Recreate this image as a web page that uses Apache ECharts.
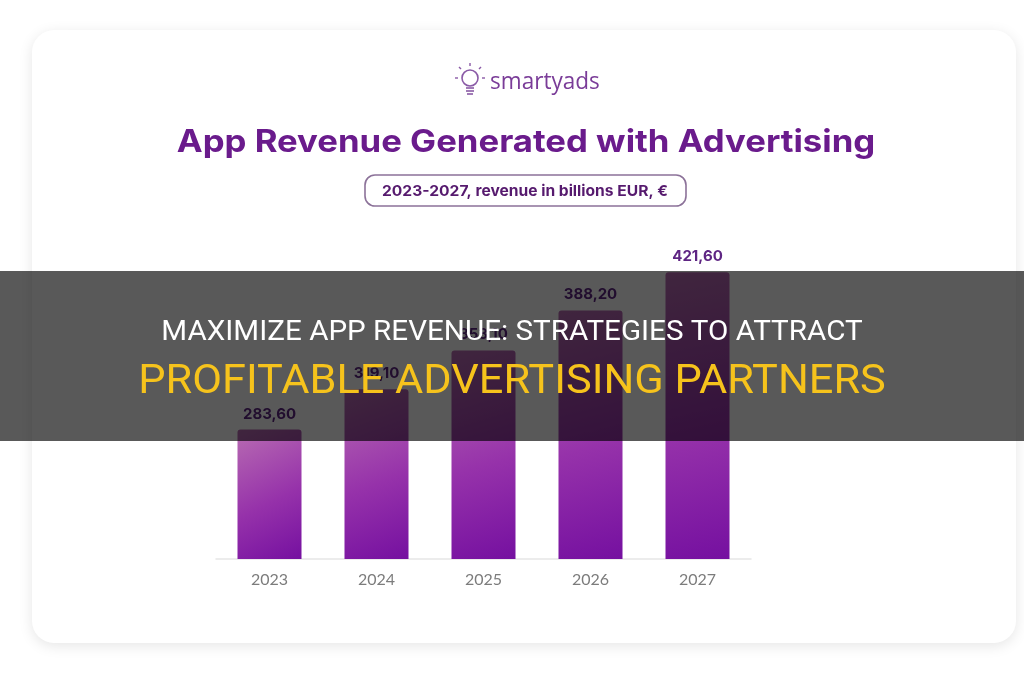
<!DOCTYPE html>
<html>
<head>
<meta charset="utf-8">
<script src="https://cdn.jsdelivr.net/npm/echarts@6/dist/echarts.min.js"></script>
<style>
html,body{margin:0;padding:0;background:#ffffff;}
#chart{width:1024px;height:680px;}
</style>
</head>
<body>
<div id="chart"></div>
<script>
var years = ['2023', '2024', '2025', '2026', '2027'];
var revenue = [283.60, 319.10, 353.10, 388.20, 421.60];
var chartTitle = 'App Revenue Generated with Advertising';
var chartSubtitle = '2023-2027, revenue in billions EUR, \u20ac';
var brandName = 'smartyads';
var overlayLine1 = 'MAXIMIZE APP REVENUE: STRATEGIES TO ATTRACT';
var overlayLine2 = 'PROFITABLE ADVERTISING PARTNERS';

var chart = echarts.init(document.getElementById('chart'), null, {renderer: 'canvas'});

var barGradient = new echarts.graphic.LinearGradient(0, 0, 1, 1, [
  {offset: 0, color: '#b86cb2'},
  {offset: 0.55, color: '#9632aa'},
  {offset: 1, color: '#7510a0'}
]);

var option = {
  backgroundColor: '#ffffff',
  animation: false,
  grid: {left: 216, width: 535, top: 240, height: 319},
  xAxis: {
    type: 'category',
    data: years,
    axisLine: {lineStyle: {color: '#e6e6e6', width: 1.5}},
    axisTick: {show: false},
    axisLabel: {color: '#7c7c7c', fontFamily: 'Lato', fontSize: 16, margin: 13}
  },
  yAxis: {
    type: 'value',
    min: 170,
    max: 450,
    show: false,
    splitLine: {show: false}
  },
  series: [{
    type: 'bar',
    data: revenue,
    barWidth: 64,
    z: 2,
    itemStyle: {color: barGradient, borderRadius: [3, 3, 0, 0]},
    label: {
      show: true,
      position: 'top',
      distance: 8,
      color: '#5e2583',
      fontFamily: 'Inter',
      fontWeight: 700,
      fontSize: 15,
      formatter: function (p) { return p.value.toFixed(2).replace('.', ','); }
    }
  }],
  graphic: [
    {
      type: 'rect', z: 0,
      shape: {x: 32, y: 30, width: 984, height: 613, r: 22},
      style: {fill: '#ffffff', shadowBlur: 14, shadowColor: 'rgba(0,0,0,0.10)', shadowOffsetY: 3}
    },
    {
      type: 'group', z: 5, x: 470, y: 78,
      children: [
        {type: 'circle', shape: {cx: 0, cy: 0, r: 8}, style: {fill: 'none', stroke: '#8a5aa6', lineWidth: 1.6}},
        {type: 'line', shape: {x1: -4, y1: 10, x2: 4, y2: 10}, style: {stroke: '#8a5aa6', lineWidth: 1.6}},
        {type: 'line', shape: {x1: -4, y1: 13, x2: 4, y2: 13}, style: {stroke: '#8a5aa6', lineWidth: 1.6}},
        {type: 'line', shape: {x1: -3, y1: 16, x2: 3, y2: 16}, style: {stroke: '#8a5aa6', lineWidth: 1.6}},
        {type: 'line', shape: {x1: 0, y1: -12, x2: 0, y2: -15}, style: {stroke: '#8a5aa6', lineWidth: 1.4}},
        {type: 'line', shape: {x1: -9, y1: -9, x2: -11, y2: -11}, style: {stroke: '#8a5aa6', lineWidth: 1.4}},
        {type: 'line', shape: {x1: 9, y1: -9, x2: 11, y2: -11}, style: {stroke: '#8a5aa6', lineWidth: 1.4}},
        {type: 'line', shape: {x1: -12, y1: 0, x2: -15, y2: 0}, style: {stroke: '#8a5aa6', lineWidth: 1.4}},
        {type: 'line', shape: {x1: 12, y1: 0, x2: 15, y2: 0}, style: {stroke: '#8a5aa6', lineWidth: 1.4}}
      ]
    },
    {
      type: 'text', z: 5, x: 490, y: 82, scaleX: 0.94,
      style: {text: brandName, fill: '#7a3c98', font: '400 24px "Open Sans"', textAlign: 'left', textVerticalAlign: 'middle'}
    },
    {
      type: 'text', z: 5, x: 526, y: 143, scaleX: 1.12,
      style: {text: chartTitle, fill: '#6a1b8c', font: '700 31px Inter', textAlign: 'center', textVerticalAlign: 'middle'}
    },
    {
      type: 'rect', z: 5,
      shape: {x: 365, y: 175, width: 321, height: 31, r: 10},
      style: {fill: '#ffffff', stroke: '#8c7299', lineWidth: 1.6}
    },
    {
      type: 'text', z: 6, x: 525, y: 191, scaleX: 1.04,
      style: {text: chartSubtitle, fill: '#561a6e', font: '700 15px Inter', textAlign: 'center', textVerticalAlign: 'middle'}
    },
    {
      type: 'rect', z: 100,
      shape: {x: 0, y: 271, width: 1024, height: 170},
      style: {fill: 'rgba(0,0,0,0.65)'}
    },
    {
      type: 'text', z: 101, x: 512, y: 333, scaleX: 1.057,
      style: {text: overlayLine1, fill: '#ffffff', font: '400 28px Roboto', textAlign: 'center', textVerticalAlign: 'middle'}
    },
    {
      type: 'text', z: 101, x: 512, y: 383, scaleX: 1.082,
      style: {text: overlayLine2, fill: '#f6c31c', font: '400 40px Roboto', textAlign: 'center', textVerticalAlign: 'middle'}
    }
  ]
};
chart.setOption(option);
</script>
</body>
</html>
